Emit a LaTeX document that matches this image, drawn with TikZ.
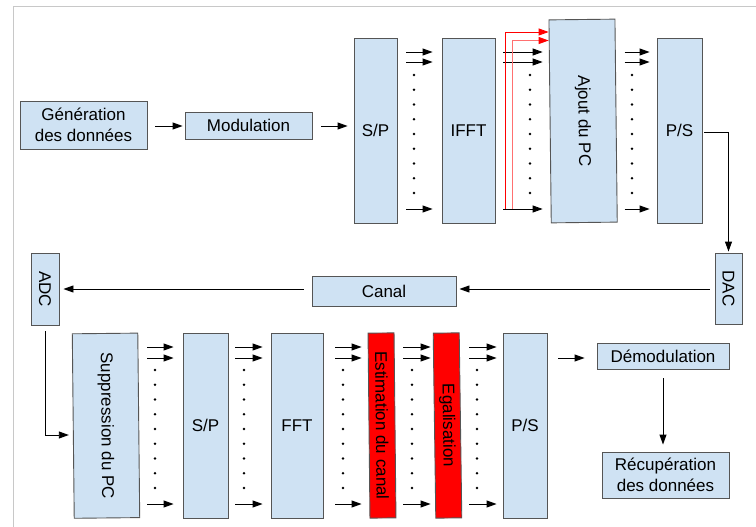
\documentclass[tikz,border=0pt]{standalone}
\usepackage{fontspec}
\setmainfont{Liberation Sans}
\usepackage{graphicx}
\usetikzlibrary{arrows.meta,calc}
\definecolor{boxblue}{HTML}{CFE2F3}
\definecolor{boxred}{HTML}{FF0000}
\definecolor{edgegray}{HTML}{555555}
\definecolor{framegray}{HTML}{C8C8C8}
\definecolor{redlight}{HTML}{FF7070}
\newcommand\busarrows[5]{%
  \foreach \yy in {#5}
    \draw[arr, shorten <=#3pt, shorten >=#4pt] (#1.east |- 0,\yy) -- (#2.west |- 0,\yy);
}
\newcommand\busdots[2]{%
  \foreach \i in {0,...,8}
    \fill[black] (#1, #2+\i*14.75) circle (1.3pt);
}
\begin{document}
\begin{tikzpicture}[x=1pt,y=-1pt,
  box/.style={draw=edgegray, line width=0.9pt, fill=boxblue, inner sep=0pt,
              font=\fontsize{17}{20.5}\selectfont, align=center},
  redbox/.style={box, fill=boxred},
  arr/.style={draw=black, line width=0.9pt, -{Triangle[length=10pt,width=7pt]}},
  redarr/.style={line width=0.9pt, -{Triangle[length=10pt,width=7pt,color=red]}}
]
\useasboundingbox (0,0) rectangle (756,527);
\draw[framegray, line width=1pt] (13,527) -- (13,7) -- (756,7);

% top row
\node[box, minimum width=127pt, minimum height=48pt] (gen) at (83.5,125) {Génération\\des données};
\node[box, minimum width=127pt, minimum height=27pt] (mod) at (248.5,125.5) {Modulation};
\node[box, minimum width=43pt, minimum height=185pt] (sp1) at (375.5,130.5) {S/P};
\node[box, minimum width=53pt, minimum height=185pt] (ifft) at (468.5,130.5) {IFFT};
\node[box, rotate=0.65, minimum width=66pt, minimum height=203pt] (ajout) at (583.1,121) {\rotatebox{-90}{Ajout du PC}};
\node[box, minimum width=45pt, minimum height=185pt] (ps1) at (679.5,130.5) {P/S};

% middle row
\node[box, minimum width=27pt, minimum height=71pt] (dac) at (728.5,288.5) {\rotatebox{-90}{DAC}};
\node[box, minimum width=144pt, minimum height=30pt] (canal) at (384,291) {Canal};
\node[box, minimum width=28pt, minimum height=72pt] (adc) at (45,289) {\rotatebox{-90}{ADC}};

% bottom row
\node[box, rotate=0.6, minimum width=65.5pt, minimum height=184.5pt] (supp) at (106,425.7) {\rotatebox{-90}{Suppression du PC}};
\node[box, minimum width=45pt, minimum height=185pt] (sp2) at (205.5,425.5) {S/P};
\node[box, minimum width=52pt, minimum height=185pt] (fft) at (297,425.5) {FFT};
\node[redbox, rotate=0.6, minimum width=26pt, minimum height=185pt] (est) at (382,425.5) {\rotatebox{-90}{Estimation du canal}};
\node[redbox, rotate=0.8, minimum width=26pt, minimum height=185pt] (eg) at (447.5,425.5) {\rotatebox{-90}{Egalisation}};
\node[box, minimum width=44pt, minimum height=185pt] (ps2) at (525,425.5) {P/S};
\node[box, minimum width=132pt, minimum height=26pt] (demod) at (663,356) {Démodulation};
\node[box, minimum width=127pt, minimum height=46pt] (recup) at (665.5,475) {Récupération\\des données};

% simple connectors
\draw[arr, shorten <=8pt, shorten >=2pt] (gen.east |- 0,126) -- (mod.west |- 0,126);
\draw[arr, shorten <=9pt, shorten >=6pt] (mod.east |- 0,126) -- (sp1.west |- 0,126);
\draw[arr, shorten <=2pt, shorten >=1pt] (ps1.east |- 0,132) -| (dac.north);
\draw[arr, shorten <=5pt, shorten >=3pt] (dac.west |- 0,289) -- (canal.east |- 0,289);
\draw[arr, shorten <=8pt, shorten >=4pt] (canal.west |- 0,289) -- (adc.east |- 0,289);
\draw[arr, shorten <=6pt, shorten >=4pt] (adc.south) |- (supp.west |- 0,435);
\draw[arr, shorten <=11pt, shorten >=12pt] (ps2.east |- 0,358) -- (demod.west |- 0,358);
\draw[arr, shorten <=9pt, shorten >=7pt] (demod.south) -- (demod.south |- recup.north);

% parallel buses, top
\busarrows{sp1}{ifft}{9}{9}{52,62,209}
\busarrows{ifft}{ajout}{8}{7}{52,62,209}
\busarrows{ajout}{ps1}{8}{7}{52,62,209}
\busdots{414}{75}
\busdots{530}{75}
\busdots{632}{75}

% red cyclic-prefix arrows
\coordinate (r1) at (505.5,209);
\coordinate (r2) at (512.5,209);
\draw[redarr, red] (r1) -- (505.5,32) -- ($(ajout.west |- 0,32)+(-1,0)$);
\draw[redarr, redlight] (r2) -- (512.5,40.5) -- ($(ajout.west |- 0,40.5)+(-1,0)$);

% parallel buses, bottom
\busarrows{supp}{sp2}{8}{9}{347,358,504}
\busarrows{sp2}{fft}{7}{8}{347,358,504}
\busarrows{fft}{est}{12}{7}{347,358,504}
\busarrows{est}{eg}{8}{3.5}{347,358,504}
\busarrows{eg}{ps2}{8.5}{6}{347,358,504}
\busdots{155}{370}
\busdots{244}{370}
\busdots{343}{370}
\busdots{412}{370}
\busdots{477}{370}
\end{tikzpicture}
\end{document}
